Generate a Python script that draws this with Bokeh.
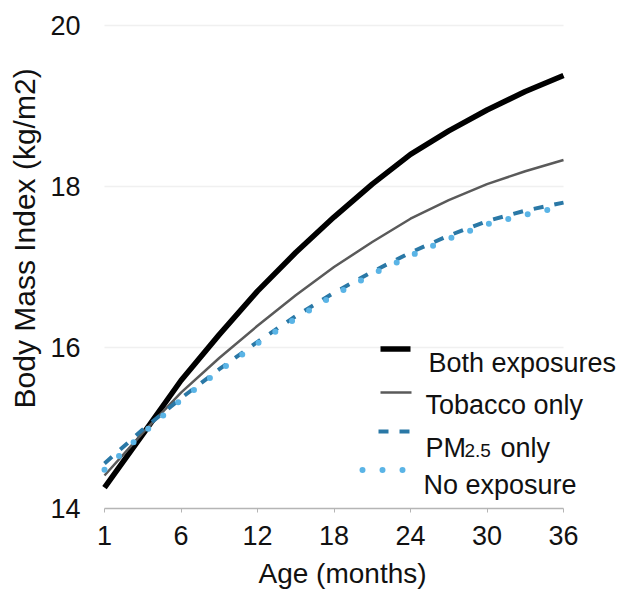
from bokeh.plotting import figure
from bokeh.models import FixedTicker, Range1d, Title
from bokeh.core.properties import value
from bokeh.embed import file_html
from bokeh.resources import INLINE

# ---- data ----
age_labels = ["1", "6", "12", "18", "24", "30", "36"]
tick_pos = [0, 1, 2, 3, 4, 5, 6]
x_pos = [0, 0.5, 1, 1.5, 2, 2.5, 3, 3.5, 4, 4.5, 5, 5.5, 6]
both_exposures = [14.26, 14.92, 15.59, 16.16, 16.70, 17.18, 17.62, 18.03, 18.40, 18.69, 18.95, 19.18, 19.38]
tobacco_only = [14.41, 14.94, 15.44, 15.87, 16.27, 16.65, 17.00, 17.31, 17.60, 17.83, 18.03, 18.19, 18.33]
pm25_only = [14.56, 14.98, 15.37, 15.73, 16.07, 16.39, 16.68, 16.94, 17.18, 17.39, 17.57, 17.70, 17.80]
no_exposure = [14.48, 14.93, 15.35, 15.71, 16.05, 16.36, 16.65, 16.91, 17.14, 17.35, 17.53, 17.65, 17.75]
y_ticks = [14, 16, 18, 20]
grid_vals = [16, 18, 20]

FONT = "Liberation Sans"
TXT = "#111111"

W, H = 618, 600
LEFT, BOTTOM = 98, 92

# pixel -> data helpers (layout only)
def dx(px):
    return (px - 104) / 76.5

def dy(py):
    return 14 + (508 - py) / 80.5

p = figure(width=W, height=H, output_backend="svg", toolbar_location=None,
           x_range=Range1d(dx(LEFT), dx(W)), y_range=Range1d(14, dy(0)),
           min_border_left=LEFT, min_border_right=0, min_border_top=0,
           min_border_bottom=BOTTOM)
p.outline_line_color = None
p.background_fill_color = "white"
p.border_fill_color = "white"
p.xgrid.visible = False
p.ygrid.visible = False

# gridlines limited to the axis extent
p.segment(x0=tick_pos[0], x1=tick_pos[-1], y0=grid_vals, y1=grid_vals,
          line_color="#f0f0f0", line_width=1.5)

# axes
p.xaxis.ticker = FixedTicker(ticks=tick_pos)
p.xaxis.major_label_overrides = {t: l for t, l in zip(tick_pos, age_labels)}
p.xaxis.bounds = (tick_pos[0], tick_pos[-1])
p.xaxis.axis_line_color = "#b5b5b5"
p.xaxis.axis_line_width = 1.5
p.xaxis.major_tick_line_color = "#b5b5b5"
p.xaxis.major_tick_out = 4
p.xaxis.major_tick_in = 0
p.xaxis.minor_tick_line_color = None
p.xaxis.major_label_standoff = 13

p.yaxis.ticker = FixedTicker(ticks=y_ticks)
p.yaxis.axis_line_color = None
p.yaxis.major_tick_line_color = None
p.yaxis.major_tick_out = 0
p.yaxis.major_tick_in = 0
p.yaxis.minor_tick_line_color = None
p.yaxis.major_label_standoff = 18

for ax in (p.xaxis[0], p.yaxis[0]):
    ax.major_label_text_font = FONT
    ax.major_label_text_font_size = "27px"
    ax.major_label_text_color = TXT

# axis titles as side titles (allow an offset along the axis)
p.add_layout(Title(text="Age (months)", align="left", offset=160,
                   vertical_align="top", standoff=20, text_font=FONT,
                   text_font_size="28px", text_font_style="normal",
                   text_color=TXT), "below")
p.add_layout(Title(text="Body Mass Index (kg/m2)", align="left", offset=100,
                   vertical_align="middle", standoff=12, text_font=FONT,
                   text_font_size="30px", text_font_style="normal",
                   text_color=TXT), "left")

# series
c_both, c_tob, c_pm, c_no = "#000000", "#5a5a5a", "#2a78a6", "#5ab4e6"
p.line(x_pos, both_exposures, line_color=c_both, line_width=5.5)
p.line(x_pos, tobacco_only, line_color=c_tob, line_width=2.5)
p.line(x_pos, pm25_only, line_color=c_pm, line_width=4, line_dash="10 11")
p.line(x_pos, no_exposure, line_color=c_no, line_width=6, line_dash="0 20",
       line_cap="round")

# manual legend
p.line([dx(380), dx(410)], [dy(348.5)] * 2, line_color=c_both, line_width=5.5)
p.line([dx(380), dx(411)], [dy(392)] * 2, line_color=c_tob, line_width=2.5)
p.line([dx(378), dx(409)], [dy(431)] * 2, line_color=c_pm, line_width=4,
       line_dash="10 11")
p.line([dx(362), dx(403)], [dy(469.5)] * 2, line_color=c_no, line_width=6,
       line_dash="0 20", line_cap="round")

def label(px, py, txt, size="27px"):
    p.text(x=[dx(px)], y=[dy(py)], text=[txt], text_font=value(FONT),
           text_font_size=value(size), text_color=TXT,
           text_baseline="alphabetic", text_align="left")

label(428, 362, "Both exposures")
label(425, 404, "Tobacco only")
label(425, 447, "PM")
label(464, 450, "2.5", size="19px")
label(500, 447, "only")
label(423, 484, "No exposure")

open("out.html", "w").write(file_html(p, INLINE))
